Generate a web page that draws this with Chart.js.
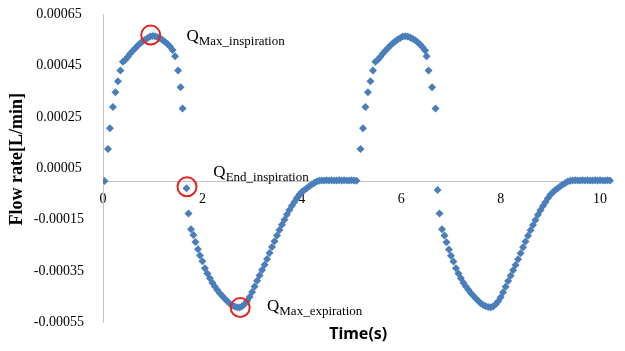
<!DOCTYPE html>
<html>
<head>
<meta charset="utf-8">
<script src="https://cdn.jsdelivr.net/npm/chart.js@4.4.0/dist/chart.umd.min.js"></script>
<style>
html, body { margin: 0; padding: 0; background: #fff; }
#wrap { width: 625px; height: 351px; }
</style>
</head>
<body>
<div id="wrap"><canvas id="mycanvas" width="625" height="351"></canvas></div>
<script>
// breathing cycle 1 (s)
var time1 = [
    0.03, 0.10, 0.14, 0.20, 0.25, 0.30, 0.35, 0.40,
    0.45, 0.50, 0.55, 0.60, 0.65, 0.70, 0.75, 0.80, 0.85, 0.90,
    0.95, 1.00, 1.05, 1.10, 1.15, 1.20, 1.25, 1.30, 1.35, 1.40,
    1.45, 1.51, 1.56, 1.60,
    1.68, 1.72, 1.77, 1.82, 1.86, 1.91, 1.95,
    2.00, 2.05, 2.10, 2.15, 2.20, 2.25, 2.30, 2.35, 2.40, 2.45,
    2.50, 2.55, 2.60, 2.65, 2.70, 2.75, 2.80, 2.85, 2.90, 2.95,
    3.00, 3.05, 3.10, 3.15, 3.20, 3.25, 3.30, 3.35, 3.40, 3.45,
    3.50, 3.55, 3.60, 3.65, 3.70, 3.75, 3.80, 3.85, 3.90, 3.95,
    4.00, 4.05, 4.10, 4.15, 4.20, 4.25, 4.30,
    4.35, 4.40, 4.45, 4.50, 4.55, 4.60, 4.65, 4.70,
    4.75, 4.80, 4.85, 4.90, 4.95, 5.00, 5.05, 5.10
];
// flow rate cycle 1 (L/min)
var flow1 = [
    0, 0.000125, 0.000206, 0.000288, 0.000346, 0.000388, 0.000430, 0.000464,
    0.000472, 0.000484, 0.000496, 0.000507, 0.000517, 0.000527, 0.000536, 0.000544, 0.000551, 0.000557,
    0.000562, 0.000564, 0.000563, 0.000560, 0.000555, 0.000549, 0.000541, 0.000533, 0.000523, 0.000510,
    0.000486, 0.000430, 0.000365, 0.000282,
    -0.000028, -0.000126, -0.000187, -0.000210, -0.000237, -0.000265, -0.000289,
    -0.000312, -0.000339, -0.000359, -0.000378, -0.000395, -0.000410, -0.000424, -0.000436, -0.000447, -0.000458,
    -0.000467, -0.000476, -0.000483, -0.000488, -0.000491, -0.000492, -0.000487, -0.000478, -0.000466, -0.000451,
    -0.000431, -0.000410, -0.000388, -0.000367, -0.000346, -0.000325, -0.000303, -0.000280, -0.000256, -0.000234,
    -0.000212, -0.000190, -0.000170, -0.000150, -0.000130, -0.000112, -0.000096, -0.000081, -0.000066, -0.000052,
    -0.000042, -0.000035, -0.000028, -0.000020, -0.000013, -0.000007, -0.000002,
    0.000001, 0.000002, 0.000002, 0.000003, 0.000002, 0.000003, 0.000002, 0.000002,
    0.000003, 0.000002, 0.000003, 0.000002, 0.000002, 0.000003, 0.000002, 0.000001
];
// breathing cycle 2 (s)
var time2 = [
    5.18, 5.23, 5.28, 5.33, 5.38, 5.43, 5.48,
    5.53, 5.58, 5.63, 5.68, 5.73, 5.78, 5.83, 5.88, 5.93, 5.98,
    6.03, 6.08, 6.13, 6.18, 6.23, 6.28, 6.33, 6.38, 6.43, 6.48,
    6.51, 6.55, 6.62, 6.69,
    6.73, 6.77, 6.82, 6.87, 6.91, 6.96, 7.00,
    7.05, 7.10, 7.15, 7.20, 7.25, 7.30, 7.35, 7.40, 7.45, 7.50,
    7.55, 7.60, 7.65, 7.70, 7.75, 7.80, 7.85, 7.90, 7.95, 8.00,
    8.05, 8.10, 8.15, 8.20, 8.25, 8.30, 8.35, 8.40, 8.45, 8.50,
    8.55, 8.60, 8.65, 8.70, 8.75, 8.80, 8.85, 8.90, 8.95, 9.00,
    9.05, 9.10, 9.15, 9.20, 9.25, 9.30, 9.35,
    9.40, 9.45, 9.50, 9.55, 9.60, 9.65, 9.70, 9.75, 9.80,
    9.85, 9.90, 9.95, 10.00, 10.05, 10.10, 10.15, 10.20
];
// flow rate cycle 2 (L/min)
var flow2 = [
    0.000125, 0.000206, 0.000288, 0.000346, 0.000388, 0.000430, 0.000464,
    0.000472, 0.000484, 0.000496, 0.000507, 0.000517, 0.000527, 0.000536, 0.000544, 0.000551, 0.000557,
    0.000562, 0.000563, 0.000562, 0.000559, 0.000554, 0.000548, 0.000540, 0.000531, 0.000521, 0.000508,
    0.000486, 0.000430, 0.000365, 0.000282,
    -0.000035, -0.000126, -0.000187, -0.000212, -0.000238, -0.000266, -0.000290,
    -0.000313, -0.000339, -0.000359, -0.000378, -0.000395, -0.000410, -0.000423, -0.000435, -0.000446, -0.000457,
    -0.000466, -0.000475, -0.000482, -0.000487, -0.000490, -0.000491, -0.000488, -0.000479, -0.000467, -0.000452,
    -0.000432, -0.000411, -0.000389, -0.000368, -0.000347, -0.000326, -0.000304, -0.000281, -0.000257, -0.000235,
    -0.000213, -0.000191, -0.000171, -0.000151, -0.000131, -0.000113, -0.000097, -0.000082, -0.000067, -0.000053,
    -0.000043, -0.000035, -0.000028, -0.000020, -0.000013, -0.000007, -0.000002,
    0.000001, 0.000002, 0.000003, 0.000002, 0.000002, 0.000003, 0.000002, 0.000003, 0.000002,
    0.000002, 0.000003, 0.000002, 0.000003, 0.000002, 0.000002, 0.000003, 0.000002
];

// circled points
var markTime = [0.96, 1.69, 2.76];
var markFlow = [0.000568, -0.000022, -0.000492];
var markLabels = ['Max_inspiration', 'End_inspiration', 'Max_expiration'];

var yTicks = [-0.00055, -0.00035, -0.00015, 0.00005, 0.00025, 0.00045, 0.00065];

var points = [];
for (var i = 0; i < time1.length; i++) points.push({x: time1[i], y: flow1[i]});
for (var i = 0; i < time2.length; i++) points.push({x: time2[i], y: flow2[i]});

var marks = [];
for (var i = 0; i < markTime.length; i++) marks.push({x: markTime[i], y: markFlow[i]});

// Q labels next to the circles, anchored in data units
var qLabels = {
    id: 'qLabels',
    afterDatasetsDraw: function(chart, args, opts) {
        var ctx = chart.ctx;
        var xs = chart.scales.x, ys = chart.scales.y;
        ctx.save();
        ctx.fillStyle = '#000';
        ctx.textAlign = 'left';
        ctx.textBaseline = 'alphabetic';
        for (var i = 0; i < opts.at.length; i++) {
            var px = xs.getPixelForValue(opts.at[i][0]);
            var py = ys.getPixelForValue(opts.at[i][1]);
            ctx.font = '17px "Liberation Serif"';
            ctx.fillText('Q', px, py);
            var w = ctx.measureText('Q').width;
            ctx.font = '13px "Liberation Serif"';
            ctx.fillText(markLabels[i], px + w, py + 4);
        }
        ctx.restore();
    }
};

Chart.defaults.font.family = '"Liberation Serif", "Times New Roman", serif';
Chart.defaults.color = '#000';

var ctx = document.getElementById('mycanvas');

var chart = new Chart(ctx, {
    type: 'scatter',
    data: {
        datasets: [
            {
                label: 'marks',
                data: marks,
                order: 0,
                pointStyle: 'circle',
                pointRadius: 9.5,
                backgroundColor: 'rgba(0,0,0,0)',
                borderColor: '#e3261f',
                borderWidth: 2
            },
            {
                label: 'flow',
                data: points,
                order: 1,
                pointStyle: 'rectRot',
                pointRadius: 4,
                borderWidth: 0,
                backgroundColor: '#4a7ebb',
                borderColor: '#4a7ebb'
            }
        ]
    },
    plugins: [qLabels],
    options: {
        responsive: false,
        animation: false,
        layout: { padding: { top: 14, right: 5, bottom: 4, left: 0 } },
        plugins: {
            legend: { display: false },
            tooltip: { enabled: false },
            qLabels: { at: [[1.68, 0.000546], [2.22, 0.0000172], [3.30, -0.000506]] }
        },
        scales: {
            x: {
                type: 'linear',
                position: { y: 0 },
                min: 0,
                max: 10.27,
                grid: { display: true, drawOnChartArea: false, drawTicks: true, tickLength: 10, tickColor: 'rgba(0,0,0,0)' },
                border: { color: '#c4c4c4', width: 1 },
                ticks: { stepSize: 2, includeBounds: false, padding: 0, font: { size: 14 } }
            },
            x2: {
                type: 'linear',
                position: 'bottom',
                grid: { display: false },
                border: { display: false },
                ticks: { display: false },
                afterFit: function(scale) { scale.height = 24.5; },
                title: {
                    display: true,
                    text: 'Time(s)',
                    font: { family: '"Noto Sans", sans-serif', weight: 'bold', size: 16 },
                    padding: { top: 4, bottom: 3 }
                }
            },
            y: {
                type: 'linear',
                position: 'left',
                min: yTicks[0],
                max: yTicks[yTicks.length - 1],
                grid: { display: true, drawOnChartArea: false, drawTicks: true, tickLength: 19, tickColor: 'rgba(0,0,0,0)' },
                border: { color: '#c4c4c4', width: 1 },
                afterFit: function(scale) { scale.width = 103; },
                ticks: {
                    stepSize: 0.0002,
                    padding: 0,
                    crossAlign: 'center',
                    font: { size: 14 },
                    callback: function(v) { return v.toFixed(5); }
                },
                title: {
                    display: true,
                    text: '    Flow rate[L/min]',
                    font: { weight: 'bold', size: 18 },
                    padding: { top: 7 }
                }
            }
        }
    }
});
</script>
</body>
</html>
